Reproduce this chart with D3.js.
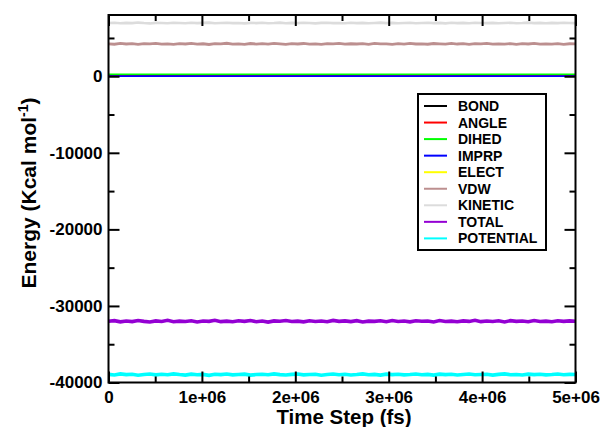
<!DOCTYPE html>
<html>
<head>
<meta charset="utf-8">
<script src="https://cdn.jsdelivr.net/npm/d3@7"></script>
<style>
  body { margin: 0; background: #fff; }
  svg { display: block; font-family: "Liberation Sans", Arial, Helvetica, sans-serif; font-weight: bold; }
</style>
</head>
<body>
<svg width="602" height="427"></svg>
<script>
// energy terms (kcal/mol) sampled evenly over 0 .. 5e6 fs
var names = ["BOND", "ANGLE", "DIHED", "IMPRP", "ELECT", "VDW", "KINETIC", "TOTAL", "POTENTIAL"];
var colors = ["#000000", "#ff0000", "#00ff00", "#0000ff", "#ffff00", "#bc8f8f", "#dcdcdc", "#9400d3", "#00ffff"];

var bond = [80, 84, 77, 82, 79, 85, 78, 81, 83, 76, 80];
var angle = [150, 156, 146, 152, 149, 158, 147, 151, 155, 145, 150];
var dihed = [265, 262, 268, 264, 266, 261, 267, 263, 265, 269, 264];
var imprp = [12, 14, 11, 13, 12, 15, 11, 12, 14, 13, 12];
var elect = [-43520, -43470, -43580, -43500, -43540, -43460, -43550, -43490, -43530, -43480, -43510];
var vdw = [4230,4180,4290,4210,4250,4160,4270,4225,4300,4195,4240,4175,4265,4215,4285,4200,4245,4150,4260,4220,
  4310,4190,4235,4170,4275,4205,4255,4185,4295,4230,4165,4250,4215,4280,4195,4240,4160,4270,4225,4305,
  4185,4245,4210,4265,4175,4290,4220,4235,4155,4260,4200,4285,4215,4240,4180,4275,4230,4195,4300,4210,
  4250,4170,4265,4225,4285,4190,4240,4205,4270,4160,4255,4215,4295,4185,4235,4200,4260,4175,4245,4220];
var kinetic = [6950,6985,6920,6970,6935,7010,6945,6900,6975,6960,6930,6995,6955,6915,6980,6940,6965,7005,6925,6950,
  6990,6935,6960,6910,6975,6945,6985,6930,6955,7000,6920,6965,6940,6980,6950,6905,6970,6995,6935,6960,
  6925,6985,6945,6970,6915,6955,7005,6940,6975,6930,6960,6990,6920,6950,6980,6935,6965,6910,6985,6945,
  6970,6925,6995,6955,6940,6975,6915,6960,6985,6930,6950,7000,6945,6970,6920,6965,6940,6980,6955,6935];
var total = [-32010,-31920,-32080,-31970,-32050,-31900,-32020,-32100,-31950,-32030,-31880,-32060,-31990,-32040,-31930,-32090,-31960,-32010,-31870,-32050,
  -31980,-32070,-31940,-32020,-31900,-32060,-31970,-32110,-31950,-32000,-31910,-32040,-31990,-32080,-31930,-32030,-31960,-32070,-31890,-32010,
  -31950,-32050,-31920,-32090,-31980,-32020,-31940,-32060,-31900,-32030,-31970,-32080,-31930,-32000,-31960,-32100,-31910,-32040,-31990,-32070,
  -31950,-32020,-31880,-32050,-31970,-32030,-31940,-32090,-31920,-32010,-31960,-32060,-31900,-32040,-31980,-32070,-31930,-32020,-31950,-32000];
var potential = [-38940,-39010,-38880,-38970,-38920,-39050,-38950,-38900,-39000,-38930,-38980,-38870,-38960,-39030,-38910,-38990,-38940,-39060,-38920,-38970,
  -38890,-39000,-38950,-38910,-39040,-38960,-38930,-38990,-38880,-38970,-39020,-38940,-38900,-39000,-38950,-38920,-39050,-38960,-38890,-38980,
  -38930,-39010,-38950,-38870,-38990,-38940,-39030,-38910,-38970,-38920,-39000,-38960,-38890,-38980,-38940,-39040,-38910,-38970,-38930,-39010,
  -38950,-38900,-38990,-38960,-38920,-39030,-38940,-38880,-38980,-38950,-39020,-38910,-38970,-38930,-39000,-38960,-38900,-38990,-38940,-38950];

var series = [bond, angle, dihed, imprp, elect, vdw, kinetic, total, potential];
var widths = [1.6, 1.6, 1.6, 1.6, 1.6, 2.8, 2.6, 3.6, 3.6];
var tEnd = 5e6;

var xTicks = [0, 1e6, 2e6, 3e6, 4e6, 5e6];
var yTicks = [-40000, -30000, -20000, -10000, 0];

var svg = d3.select("svg");
var pL = 108.5, pR = 575.5, pT = 15, pB = 382.5;

var x = d3.scaleLinear().domain([0, tEnd]).range([pL, pR]);
var y = d3.scaleLinear().domain([-40000, 8000]).range([pB, pT]);

svg.append("clipPath").attr("id", "clip")
  .append("rect").attr("x", pL).attr("y", pT).attr("width", pR - pL).attr("height", pB - pT);

var line = d3.line()
  .x(d => x(d.t))
  .y(d => y(d.v));

var plot = svg.append("g").attr("clip-path", "url(#clip)");
series.forEach((s, k) => {
  var pts = s.map((v, i) => ({ t: i * tEnd / (s.length - 1), v: v }));
  plot.append("path")
    .datum(pts)
    .attr("fill", "none")
    .attr("stroke", colors[k])
    .attr("stroke-width", widths[k])
    .attr("stroke-linejoin", "miter")
    .attr("d", line);
});

// axes: ticks inward on all four sides
var fmtX = d => d === 0 ? "0" : (d / 1e6) + "e+06";
var minorX = d3.range(5e5, tEnd, 1e6);
var minorY = d3.range(-35000, 8000, 10000);

function styleAxis(g) {
  g.select(".domain").remove();
  g.selectAll("line").attr("stroke", "#000").attr("stroke-width", 2);
  g.selectAll("text").attr("fill", "#000").style("font-size", "17px").style("font-weight", "bold")
    .style("font-family", "'Liberation Sans', Arial, sans-serif");
}

svg.append("g").attr("transform", "translate(0," + pB + ")")
  .call(d3.axisBottom(x).tickValues(xTicks).tickFormat(fmtX).tickSize(-11).tickPadding(8)).call(styleAxis);
svg.append("g").attr("transform", "translate(0," + pB + ")")
  .call(d3.axisBottom(x).tickValues(minorX).tickFormat("").tickSize(-6)).call(styleAxis);
svg.append("g").attr("transform", "translate(0," + pT + ")")
  .call(d3.axisTop(x).tickValues(xTicks).tickFormat("").tickSize(-11)).call(styleAxis);
svg.append("g").attr("transform", "translate(0," + pT + ")")
  .call(d3.axisTop(x).tickValues(minorX).tickFormat("").tickSize(-6)).call(styleAxis);

svg.append("g").attr("transform", "translate(" + pL + ",0)")
  .call(d3.axisLeft(y).tickValues(yTicks).tickFormat(d => String(d)).tickSize(-11).tickPadding(6)).call(styleAxis);
svg.append("g").attr("transform", "translate(" + pL + ",0)")
  .call(d3.axisLeft(y).tickValues(minorY).tickFormat("").tickSize(-6)).call(styleAxis);
svg.append("g").attr("transform", "translate(" + pR + ",0)")
  .call(d3.axisRight(y).tickValues(yTicks).tickFormat("").tickSize(-11)).call(styleAxis);
svg.append("g").attr("transform", "translate(" + pR + ",0)")
  .call(d3.axisRight(y).tickValues(minorY).tickFormat("").tickSize(-6)).call(styleAxis);

svg.append("rect")
  .attr("x", pL).attr("y", pT).attr("width", pR - pL).attr("height", pB - pT)
  .attr("fill", "none").attr("stroke", "#000").attr("stroke-width", 2);

// axis titles
svg.append("text")
  .attr("x", 344).attr("y", 424)
  .attr("text-anchor", "middle").style("font-size", "20.5px")
  .text("Time Step (fs)");

var yt = svg.append("text")
  .attr("transform", "translate(36," + 193 + ") rotate(-90)")
  .attr("text-anchor", "middle").style("font-size", "21px");
yt.append("tspan").text("Energy (Kcal mol");
yt.append("tspan").attr("dy", -8).style("font-size", "14px").text("-1");
yt.append("tspan").attr("dy", 8).text(")");

// legend
var lg = svg.append("g");
lg.append("rect")
  .attr("x", 418).attr("y", 94).attr("width", 128).attr("height", 156)
  .attr("fill", "#fff").attr("stroke", "#000").attr("stroke-width", 2);
names.forEach((n, i) => {
  var yy = 106 + i * 16.55;
  lg.append("line").attr("x1", 424).attr("x2", 447).attr("y1", yy).attr("y2", yy)
    .attr("stroke", colors[i]).attr("stroke-width", 2);
  lg.append("text").attr("x", 458).attr("y", yy).attr("dy", "0.36em")
    .style("font-size", "14px").text(n);
});
</script>
</body>
</html>
